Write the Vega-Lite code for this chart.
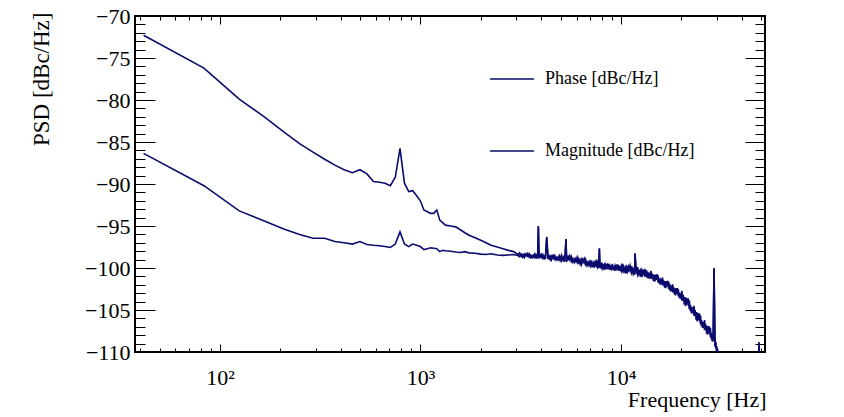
{
  "$schema": "https://vega.github.io/schema/vega-lite/v6.json",
  "width": 630,
  "height": 336,
  "autosize": {"type": "none"},
  "padding": {"left": 135, "top": 16, "right": 79, "bottom": 65},
  "background": "white",
  "config": {
    "view": {"stroke": "black", "strokeWidth": 2},
    "font": "Liberation Serif"
  },
  "data": {"values": [
    {"f": 41.6, "p": -72.3, "m": -86.35},
    {"f": 83.2, "p": -76.2, "m": -90.2},
    {"f": 124.8, "p": -79.9, "m": -93.2},
    {"f": 166.4, "p": -82.0, "m": -94.4},
    {"f": 208, "p": -83.8, "m": -95.35},
    {"f": 249.6, "p": -85.2, "m": -96.0},
    {"f": 291.2, "p": -86.2, "m": -96.45},
    {"f": 332.8, "p": -87.05, "m": -96.45},
    {"f": 374.4, "p": -87.75, "m": -96.85},
    {"f": 416, "p": -88.3, "m": -97.0},
    {"f": 457.6, "p": -88.65, "m": -97.15},
    {"f": 499.2, "p": -88.3, "m": -96.85},
    {"f": 540.8, "p": -88.8, "m": -97.2},
    {"f": 582.4, "p": -89.7, "m": -97.3},
    {"f": 624, "p": -89.8, "m": -97.35},
    {"f": 665.6, "p": -89.9, "m": -97.45},
    {"f": 707.2, "p": -90.2, "m": -97.55},
    {"f": 748.8, "p": -89.2, "m": -97.15},
    {"f": 790.4, "p": -85.75, "m": -95.7},
    {"f": 832, "p": -89.9, "m": -97.15},
    {"f": 873.6, "p": -90.9, "m": -97.45},
    {"f": 915, "p": -90.8, "m": -97.15},
    {"f": 957, "p": -91.4, "m": -97.3},
    {"f": 998, "p": -92.0, "m": -97.45},
    {"f": 1040, "p": -93.1, "m": -97.8},
    {"f": 1082, "p": -93.3, "m": -97.7},
    {"f": 1123, "p": -93.5, "m": -97.6},
    {"f": 1165, "p": -93.5, "m": -97.65},
    {"f": 1206, "p": -93.1, "m": -97.7},
    {"f": 1248, "p": -94.3, "m": -98.05},
    {"f": 1290, "p": -94.6, "m": -97.9},
    {"f": 1331, "p": -94.9, "m": -97.95},
    {"f": 1414, "p": -95.0, "m": -98.0},
    {"f": 1498, "p": -95.1, "m": -98.1},
    {"f": 1581, "p": -95.45, "m": -98.15},
    {"f": 1664, "p": -95.8, "m": -98.05},
    {"f": 1747, "p": -96.1, "m": -98.2},
    {"f": 1872, "p": -96.4, "m": -98.25},
    {"f": 1997, "p": -96.7, "m": -98.35},
    {"f": 2122, "p": -97.0, "m": -98.4},
    {"f": 2246, "p": -97.3, "m": -98.3},
    {"f": 2413, "p": -97.5, "m": -98.45},
    {"f": 2579, "p": -97.7, "m": -98.5},
    {"f": 2746, "p": -97.9, "m": -98.45},
    {"f": 2912, "p": -98.05, "m": -98.4},
    {"f": 3078, "p": -98.4, "m": -98.55},
    {"f": 3120, "p": -98.19, "m": -98.66},
    {"f": 3180, "p": -98.63, "m": -98.34},
    {"f": 3240, "p": -98.38, "m": -98.74},
    {"f": 3300, "p": -98.75, "m": -98.33},
    {"f": 3360, "p": -98.32, "m": -98.55},
    {"f": 3420, "p": -98.6, "m": -98.26},
    {"f": 3480, "p": -98.3, "m": -98.71},
    {"f": 3540, "p": -98.75, "m": -98.46},
    {"f": 3600, "p": -98.51, "m": -98.79},
    {"f": 3660, "p": -98.7, "m": -98.47},
    {"f": 3720, "p": -98.32, "m": -98.79},
    {"f": 3780, "p": -98.76, "m": -98.47},
    {"f": 3840, "p": -98.51, "m": -98.87},
    {"f": 3871, "p": -95.0, "m": -95.1},
    {"f": 3900, "p": -98.88, "m": -98.46},
    {"f": 3960, "p": -98.45, "m": -98.68},
    {"f": 4020, "p": -98.72, "m": -98.38},
    {"f": 4080, "p": -98.43, "m": -98.84},
    {"f": 4140, "p": -98.88, "m": -98.59},
    {"f": 4200, "p": -98.63, "m": -98.91},
    {"f": 4260, "p": -96.3, "m": -96.4},
    {"f": 4320, "p": -98.45, "m": -98.92},
    {"f": 4380, "p": -98.88, "m": -98.59},
    {"f": 4440, "p": -98.63, "m": -98.99},
    {"f": 4500, "p": -99.01, "m": -98.59},
    {"f": 4560, "p": -98.58, "m": -98.81},
    {"f": 4620, "p": -98.85, "m": -98.51},
    {"f": 4680, "p": -98.55, "m": -98.96},
    {"f": 4740, "p": -99.01, "m": -98.72},
    {"f": 4800, "p": -98.76, "m": -99.04},
    {"f": 4860, "p": -98.95, "m": -98.72},
    {"f": 4920, "p": -98.57, "m": -99.04},
    {"f": 4980, "p": -99.01, "m": -98.72},
    {"f": 5050, "p": -98.48, "m": -99.16},
    {"f": 5150, "p": -99.1, "m": -98.68},
    {"f": 5250, "p": -98.73, "m": -99.26},
    {"f": 5317, "p": -96.55, "m": -96.6},
    {"f": 5350, "p": -99.27, "m": -98.66},
    {"f": 5450, "p": -98.63, "m": -98.98},
    {"f": 5550, "p": -99.03, "m": -98.54},
    {"f": 5650, "p": -98.61, "m": -99.22},
    {"f": 5750, "p": -99.28, "m": -98.87},
    {"f": 5850, "p": -98.92, "m": -99.34},
    {"f": 5950, "p": -99.22, "m": -98.88},
    {"f": 6050, "p": -98.69, "m": -99.37},
    {"f": 6150, "p": -99.34, "m": -98.92},
    {"f": 6250, "p": -99.0, "m": -99.53},
    {"f": 6350, "p": -99.57, "m": -98.96},
    {"f": 6450, "p": -98.96, "m": -99.31},
    {"f": 6550, "p": -99.38, "m": -98.89},
    {"f": 6650, "p": -98.97, "m": -99.58},
    {"f": 6750, "p": -99.65, "m": -99.24},
    {"f": 6850, "p": -99.31, "m": -99.73},
    {"f": 6950, "p": -99.62, "m": -99.28},
    {"f": 7050, "p": -99.09, "m": -99.77},
    {"f": 7150, "p": -99.73, "m": -99.31},
    {"f": 7250, "p": -99.38, "m": -99.91},
    {"f": 7350, "p": -99.94, "m": -99.33},
    {"f": 7450, "p": -99.32, "m": -99.67},
    {"f": 7550, "p": -99.73, "m": -99.24},
    {"f": 7650, "p": -99.31, "m": -99.92},
    {"f": 7750, "p": -99.98, "m": -99.57},
    {"f": 7800, "p": -97.65, "m": -97.7},
    {"f": 7850, "p": -99.62, "m": -100.04},
    {"f": 7950, "p": -99.92, "m": -99.58},
    {"f": 8050, "p": -99.38, "m": -100.06},
    {"f": 8150, "p": -100.0, "m": -99.58},
    {"f": 8250, "p": -99.64, "m": -100.17},
    {"f": 8350, "p": -100.18, "m": -99.57},
    {"f": 8450, "p": -99.55, "m": -99.9},
    {"f": 8550, "p": -99.94, "m": -99.45},
    {"f": 8650, "p": -99.51, "m": -100.12},
    {"f": 8750, "p": -100.16, "m": -99.75},
    {"f": 8850, "p": -99.8, "m": -100.22},
    {"f": 8950, "p": -100.09, "m": -99.75},
    {"f": 9050, "p": -99.52, "m": -100.2},
    {"f": 9150, "p": -100.15, "m": -99.73},
    {"f": 9250, "p": -99.78, "m": -100.31},
    {"f": 9350, "p": -100.32, "m": -99.71},
    {"f": 9450, "p": -99.68, "m": -100.03},
    {"f": 9550, "p": -100.07, "m": -99.58},
    {"f": 9650, "p": -99.63, "m": -100.24},
    {"f": 9750, "p": -100.28, "m": -99.87},
    {"f": 9850, "p": -99.91, "m": -100.33},
    {"f": 9950, "p": -100.19, "m": -99.85},
    {"f": 10100, "p": -99.5, "m": -100.44},
    {"f": 10300, "p": -100.37, "m": -99.8},
    {"f": 10500, "p": -99.89, "m": -100.62},
    {"f": 10700, "p": -100.66, "m": -99.83},
    {"f": 10900, "p": -99.82, "m": -100.28},
    {"f": 11100, "p": -100.38, "m": -99.7},
    {"f": 11300, "p": -99.79, "m": -100.62},
    {"f": 11500, "p": -100.72, "m": -100.14},
    {"f": 11700, "p": -100.24, "m": -100.81},
    {"f": 11742, "p": -98.25, "m": -98.3},
    {"f": 11900, "p": -100.64, "m": -100.17},
    {"f": 12100, "p": -99.9, "m": -100.84},
    {"f": 12300, "p": -100.77, "m": -100.2},
    {"f": 12500, "p": -100.3, "m": -101.03},
    {"f": 12700, "p": -101.07, "m": -100.24},
    {"f": 12900, "p": -100.24, "m": -100.7},
    {"f": 13100, "p": -100.8, "m": -100.12},
    {"f": 13300, "p": -100.21, "m": -101.04},
    {"f": 13500, "p": -101.15, "m": -100.57},
    {"f": 13700, "p": -100.67, "m": -101.24},
    {"f": 13900, "p": -101.07, "m": -100.6},
    {"f": 14100, "p": -100.35, "m": -101.29},
    {"f": 14300, "p": -101.25, "m": -100.68},
    {"f": 14500, "p": -100.81, "m": -101.54},
    {"f": 14700, "p": -101.62, "m": -100.79},
    {"f": 14900, "p": -100.82, "m": -101.28},
    {"f": 15100, "p": -101.42, "m": -100.74},
    {"f": 15300, "p": -100.87, "m": -101.7},
    {"f": 15500, "p": -101.84, "m": -101.26},
    {"f": 15700, "p": -101.4, "m": -101.97},
    {"f": 15900, "p": -101.83, "m": -101.36},
    {"f": 16100, "p": -101.13, "m": -102.07},
    {"f": 16300, "p": -102.04, "m": -101.47},
    {"f": 16500, "p": -101.6, "m": -102.33},
    {"f": 16700, "p": -102.4, "m": -101.57},
    {"f": 16900, "p": -101.6, "m": -102.06},
    {"f": 17100, "p": -102.2, "m": -101.52},
    {"f": 17300, "p": -101.66, "m": -102.49},
    {"f": 17500, "p": -102.64, "m": -102.06},
    {"f": 17700, "p": -102.2, "m": -102.77},
    {"f": 17900, "p": -102.65, "m": -102.18},
    {"f": 18100, "p": -101.96, "m": -102.9},
    {"f": 18300, "p": -102.87, "m": -102.3},
    {"f": 18500, "p": -102.44, "m": -103.17},
    {"f": 18700, "p": -103.26, "m": -102.43},
    {"f": 18900, "p": -102.46, "m": -102.92},
    {"f": 19100, "p": -103.07, "m": -102.39},
    {"f": 19300, "p": -102.53, "m": -103.36},
    {"f": 19500, "p": -103.5, "m": -102.92},
    {"f": 19700, "p": -103.07, "m": -103.64},
    {"f": 19900, "p": -103.52, "m": -103.05},
    {"f": 20100, "p": -102.71, "m": -103.88},
    {"f": 20400, "p": -103.93, "m": -103.21},
    {"f": 20700, "p": -103.46, "m": -104.37},
    {"f": 21000, "p": -104.55, "m": -103.51},
    {"f": 21300, "p": -103.62, "m": -104.21},
    {"f": 21600, "p": -104.46, "m": -103.61},
    {"f": 21900, "p": -103.85, "m": -104.9},
    {"f": 22200, "p": -105.14, "m": -104.42},
    {"f": 22500, "p": -104.67, "m": -105.39},
    {"f": 22800, "p": -105.31, "m": -104.72},
    {"f": 23100, "p": -104.51, "m": -105.68},
    {"f": 23400, "p": -105.73, "m": -105.01},
    {"f": 23700, "p": -105.26, "m": -106.17},
    {"f": 24000, "p": -106.35, "m": -105.31},
    {"f": 24300, "p": -105.42, "m": -106.01},
    {"f": 24600, "p": -106.26, "m": -105.41},
    {"f": 24900, "p": -105.65, "m": -106.7},
    {"f": 25200, "p": -106.92, "m": -106.2},
    {"f": 25500, "p": -106.42, "m": -107.14},
    {"f": 25800, "p": -107.03, "m": -106.44},
    {"f": 26100, "p": -106.2, "m": -107.37},
    {"f": 26400, "p": -107.39, "m": -106.67},
    {"f": 26700, "p": -106.89, "m": -107.8},
    {"f": 27000, "p": -107.95, "m": -106.91},
    {"f": 27300, "p": -106.99, "m": -107.58},
    {"f": 27600, "p": -107.8, "m": -106.95},
    {"f": 27900, "p": -107.16, "m": -108.21},
    {"f": 28200, "p": -108.47, "m": -107.75},
    {"f": 28500, "p": -108.02, "m": -108.74},
    {"f": 28800, "p": -108.73, "m": -108.14},
    {"f": 29100, "p": -100.0, "m": -100.1},
    {"f": 29400, "p": -108.2, "m": -109.37},
    {"f": 29700, "p": -109.54, "m": -108.82},
    {"f": 30000, "p": -109.29, "m": -110.2},
    {"f": 30300, "p": -110.65, "m": -109.61},
    {"f": 30600, "p": -109.94, "m": -110.53},
    {"f": 30900, "p": -111.0, "m": -110.6},
    {"f": 32000, "p": -112.0, "m": -112.5},
    {"f": 36000, "p": -114.0, "m": -114.0},
    {"f": 42000, "p": -115.0, "m": -115.0},
    {"f": 48000, "p": -115.0, "m": -115.0},
    {"f": 48750, "p": -108.8, "m": -109.0},
    {"f": 49500, "p": -115.0, "m": -115.0},
    {"f": 52000, "p": -115.0, "m": -115.0}
  ]},
  "layer": [
    {
      "mark": {"type": "line", "clip": true, "strokeWidth": 1.6},
      "encoding": {
        "x": {
          "field": "f", "type": "quantitative",
          "scale": {"type": "log", "domain": [37.7, 52240], "nice": false},
          "axis": {
            "orient": "bottom",
            "values": [40, 50, 60, 70, 80, 90, 100, 200, 300, 400, 500, 600, 700, 800, 900, 1000, 2000, 3000, 4000, 5000, 6000, 7000, 8000, 9000, 10000, 20000, 30000, 40000, 50000],
            "tickSize": {"condition": {"test": "indexof([100,1000,10000], datum.value) >= 0", "value": -8}, "value": -4},
            "tickColor": "black", "tickWidth": 1, "domain": false, "grid": false,
            "labelExpr": "datum.value == 100 ? '10²' : datum.value == 1000 ? '10³' : datum.value == 10000 ? '10⁴' : ''",
            "labelFont": "Liberation Serif", "labelFontSize": 22, "labelColor": "black",
            "labelBaseline": "alphabetic", "labelPadding": 40, "labelOverlap": false, "labelFlush": false,
            "title": "Frequency [Hz]", "titleFont": "Liberation Serif", "titleFontSize": 22,
            "titleFontWeight": "normal", "titleColor": "black",
            "titleAlign": "right", "titleBaseline": "alphabetic", "titleX": 631, "titleY": 54
          }
        },
        "y": {
          "field": "p", "type": "quantitative",
          "scale": {"domain": [-110, -70], "nice": false, "zero": false},
          "axis": {
            "orient": "left",
            "values": [-110, -109, -108, -107, -106, -105, -104, -103, -102, -101, -100, -99, -98, -97, -96, -95, -94, -93, -92, -91, -90, -89, -88, -87, -86, -85, -84, -83, -82, -81, -80, -79, -78, -77, -76, -75, -74, -73, -72, -71, -70],
            "tickSize": {"condition": {"test": "datum.value % 5 == 0", "value": -20}, "value": -10},
            "tickColor": "black", "tickWidth": 1, "domain": false, "grid": false,
            "labelExpr": "datum.value % 5 == 0 ? replace(format(datum.value, 'd'), '-', '−') : ''",
            "labelFont": "Liberation Serif", "labelFontSize": 22, "labelColor": "black",
            "labelAlign": "right", "labelBaseline": "middle", "labelPadding": 25, "labelOverlap": false, "labelFlush": false,
            "title": "PSD [dBc/Hz]", "titleFont": "Liberation Serif", "titleFontSize": 23,
            "titleFontWeight": "normal", "titleColor": "black", "titleAngle": 270,
            "titleAlign": "right", "titleBaseline": "alphabetic", "titleX": -87, "titleY": -4
          }
        },
        "color": {
          "datum": "Phase [dBc/Hz]",
          "scale": {"domain": ["Phase [dBc/Hz]", "Magnitude [dBc/Hz]"], "range": ["#0b0b6e", "#0b0b6e"]},
          "legend": {
            "orient": "none", "legendX": 354, "legendY": 40, "title": null,
            "symbolType": "stroke", "symbolSize": 1936, "symbolStrokeWidth": 1.6,
            "labelFont": "Liberation Serif", "labelFontSize": 18, "labelColor": "black",
            "labelOffset": 10, "rowPadding": 40, "padding": 0, "labelLimit": 400
          }
        }
      }
    },
    {
      "mark": {"type": "line", "clip": true, "strokeWidth": 1.6},
      "encoding": {
        "x": {
          "field": "f", "type": "quantitative",
          "axis": {
            "orient": "top",
            "values": [40, 50, 60, 70, 80, 90, 100, 200, 300, 400, 500, 600, 700, 800, 900, 1000, 2000, 3000, 4000, 5000, 6000, 7000, 8000, 9000, 10000, 20000, 30000, 40000, 50000],
            "tickSize": {"condition": {"test": "indexof([100,1000,10000], datum.value) >= 0", "value": -8}, "value": -4},
            "tickColor": "black", "tickWidth": 1, "domain": false, "grid": false,
            "labels": false, "title": null
          }
        },
        "y": {
          "field": "m", "type": "quantitative",
          "axis": {
            "orient": "right",
            "values": [-110, -109, -108, -107, -106, -105, -104, -103, -102, -101, -100, -99, -98, -97, -96, -95, -94, -93, -92, -91, -90, -89, -88, -87, -86, -85, -84, -83, -82, -81, -80, -79, -78, -77, -76, -75, -74, -73, -72, -71, -70],
            "tickSize": {"condition": {"test": "datum.value % 5 == 0", "value": -20}, "value": -10},
            "tickColor": "black", "tickWidth": 1, "domain": false, "grid": false,
            "labels": false, "title": null
          }
        },
        "color": {"datum": "Magnitude [dBc/Hz]"}
      }
    }
  ],
  "resolve": {"axis": {"x": "independent", "y": "independent"}}
}
